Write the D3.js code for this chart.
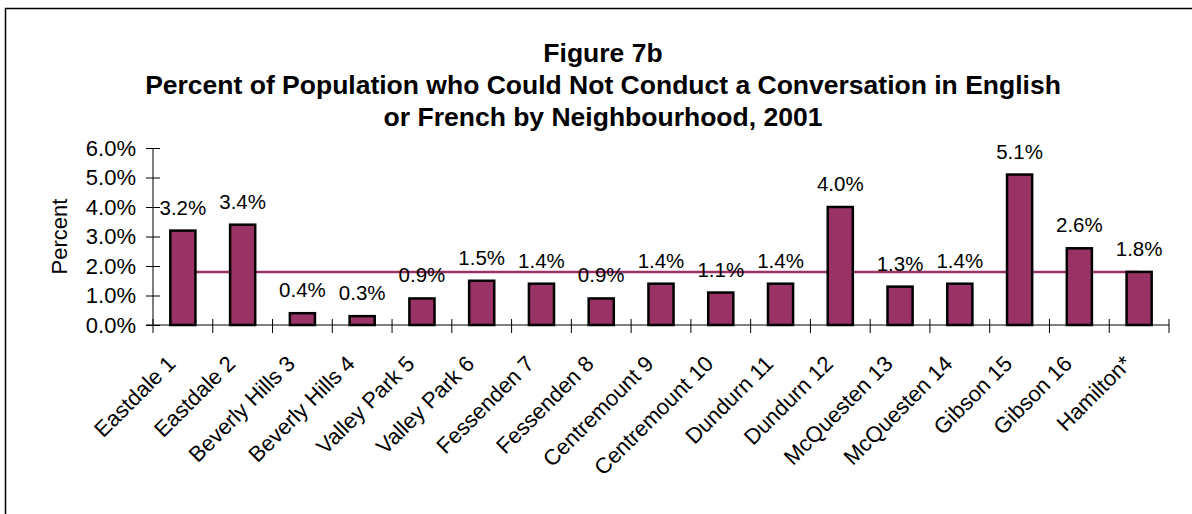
<!DOCTYPE html>
<html>
<head>
<meta charset="utf-8">
<script src="https://cdn.jsdelivr.net/npm/d3@7"></script>
<style>
	body { margin: 0; background: #fff; }
	svg { display: block; font-family: "Liberation Sans", Arial, sans-serif; }
</style>
</head>
<body>
<svg id="chart" width="1192" height="514"></svg>
<script>
/*	Chart data ------------------------------------------------------------------*/
var neighbourhoods = ["Eastdale 1","Eastdale 2","Beverly Hills 3","Beverly Hills 4","Valley Park 5",
	"Valley Park 6","Fessenden 7","Fessenden 8","Centremount 9","Centremount 10","Dundurn 11",
	"Dundurn 12","McQuesten 13","McQuesten 14","Gibson 15","Gibson 16","Hamilton*"];
var percentValues = [3.2,3.4,0.4,0.3,0.9,1.5,1.4,0.9,1.4,1.1,1.4,4.0,1.3,1.4,5.1,2.6,1.8];
var hamiltonAverage = 1.8;
var yTicks = [0,1,2,3,4,5,6];
var titleLines = ["Figure 7b",
	"Percent of Population who Could Not Conduct a Conversation in English",
	"or French by Neighbourhood, 2001"];

var width = 1192, height = 514;
var padding = {left: 153, right: 23, top: 148, bottom: 189};
var barColor = "#993366";

var svg = d3.select("#chart");

/*	Outer frame --------------------------------------------------------------------*/
svg.append("rect")
	.attr("x",5.5).attr("y",8.5)
	.attr("width",width + 20).attr("height",height + 20)
	.style("fill","white")
	.style("stroke","black")
	.style("stroke-width","1.5");

/*	Scales ---------------------------------------------------------------------------*/
var xScale = d3.scaleBand()
	.domain(neighbourhoods)
	.range([padding.left, width - padding.right])
	.paddingInner(0.58)
	.paddingOuter(0.29);
var xBand = d3.scaleBand()
	.domain(neighbourhoods)
	.range([padding.left, width - padding.right]);
var yScale = d3.scaleLinear()
	.domain([0,6])
	.range([height - padding.bottom, padding.top]);

/*	Title ------------------------------------------------------------------------------*/
svg.append("g").selectAll("text")
	.data(titleLines)
	.enter()
	.append("text")
	.attr("x",603)
	.attr("y",function(d,i){ return 62 + i*32; })
	.attr("text-anchor","middle")
	.style("font-weight","bold")
	.style("font-size","26.5px")
	.style("fill","black")
	.text(function(d){ return d; });

/*	Average line (drawn behind the bars) ----------------------------------------------*/
var first = neighbourhoods[0], last = neighbourhoods[neighbourhoods.length-1];
svg.append("line")
	.attr("x1",xScale(first) + xScale.bandwidth()/2)
	.attr("x2",xScale(last) + xScale.bandwidth()/2)
	.attr("y1",yScale(hamiltonAverage))
	.attr("y2",yScale(hamiltonAverage))
	.style("stroke",barColor)
	.style("stroke-width","2.5");

/*	Bars --------------------------------------------------------------------------------*/
svg.append("g").selectAll("rect")
	.data(percentValues)
	.enter()
	.append("rect")
	.attr("x",function(d,i){ return xScale(neighbourhoods[i]); })
	.attr("y",function(d){ return yScale(d); })
	.attr("width",xScale.bandwidth())
	.attr("height",function(d){ return yScale(0) - yScale(d); })
	.style("fill",barColor)
	.style("stroke","black")
	.style("stroke-width","2.5");

/*	Data labels --------------------------------------------------------------------------*/
svg.append("g").selectAll("text")
	.data(percentValues)
	.enter()
	.append("text")
	.attr("x",function(d,i){ return xScale(neighbourhoods[i]) + xScale.bandwidth()/2; })
	.attr("y",function(d){ return yScale(d) - 16; })
	.attr("text-anchor","middle")
	.style("font-size","20.5px")
	.style("fill","black")
	.text(function(d){ return d.toFixed(1) + "%"; });

/*	Y axis --------------------------------------------------------------------------------*/
var yAxis = d3.axisLeft(yScale)
	.tickValues(yTicks)
	.tickSize(7)
	.tickPadding(10)
	.tickFormat(function(d){ return d.toFixed(1) + "%"; });
var y_Axis = svg.append("g")
	.attr("transform","translate(" + padding.left + ",0)")
	.call(yAxis);
y_Axis.select(".domain").remove();
y_Axis.append("line")
	.attr("x1",0).attr("x2",0)
	.attr("y1",yScale(6)).attr("y2",yScale(0))
	.style("stroke","black");
y_Axis.selectAll("g.tick line")
	.attr("x1",7)
	.style("stroke","black");
y_Axis.selectAll("g.tick text")
	.attr("x",-17)
	.style("font","22px 'Liberation Sans', Arial, sans-serif")
	.style("fill","black");
y_Axis.append("text")
	.attr("text-anchor","middle")
	.attr("transform","translate(" + (67 - padding.left) + "," + yScale(3) + ")rotate(-90)")
	.style("font-size","22px")
	.style("fill","black")
	.text("Percent");

/*	X axis ---------------------------------------------------------------------------------*/
var x_Axis = svg.append("g")
	.attr("transform","translate(0," + yScale(0) + ")");
x_Axis.append("line")
	.attr("x1",padding.left - 7).attr("x2",width - padding.right)
	.attr("y1",0).attr("y2",0)
	.style("stroke","black");
x_Axis.selectAll("line.tick")
	.data(neighbourhoods.concat(["end"]))
	.enter()
	.append("line")
	.attr("class","tick")
	.attr("x1",function(d,i){ return i < neighbourhoods.length ? xBand(d) : width - padding.right; })
	.attr("x2",function(d,i){ return i < neighbourhoods.length ? xBand(d) : width - padding.right; })
	.attr("y1",-6).attr("y2",8)
	.style("stroke","black");
x_Axis.selectAll("text")
	.data(neighbourhoods)
	.enter()
	.append("text")
	.attr("text-anchor","end")
	.attr("transform",function(d){
		return "translate(" + (xScale(d) + xScale.bandwidth()/2 - 6) + ",40)rotate(-45)";
	})
	.style("font-size","22px")
	.style("fill","black")
	.text(function(d){ return d; });
</script>
</body>
</html>
